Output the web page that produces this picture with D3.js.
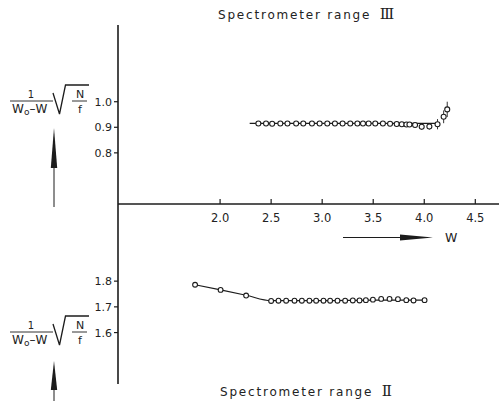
<!DOCTYPE html>
<html>
<head>
<meta charset="utf-8">
<script src="https://cdn.jsdelivr.net/npm/d3@7"></script>
<style>
  body { margin: 0; background: #fff; }
  svg text { font-family: "DejaVu Sans", sans-serif; fill: #222; }
</style>
</head>
<body>
<div id="chart"></div>
<script>
// spectrometer range III (upper panel)
var w3 = [2.375, 2.45, 2.51, 2.59, 2.66, 2.745, 2.815, 2.9, 2.975, 3.05, 3.125, 3.2, 3.275, 3.345,
          3.4, 3.455, 3.52, 3.595, 3.665, 3.73, 3.78, 3.825, 3.855, 3.91, 3.975, 4.05, 4.13, 4.19, 4.225];
var v3 = [0.915, 0.915, 0.914, 0.915, 0.915, 0.915, 0.915, 0.915, 0.915, 0.915, 0.915, 0.915, 0.915, 0.915,
          0.915, 0.915, 0.915, 0.915, 0.914, 0.913, 0.912, 0.911, 0.911, 0.909, 0.902, 0.903, 0.912, 0.941, 0.97];
var err3 = [0, 0, 0, 0, 0, 0, 0, 0, 0, 0, 0, 0, 0, 0,
            0, 0, 0, 0, 0, 0, 0, 0, 0, 0, 0.012, 0.012, 0.02, 0.025, 0.03];
var fit3W = [2.29, 4.13];
var fit3V = [0.915, 0.915];

// spectrometer range II (lower panel)
var w2 = [1.755, 2.005, 2.255, 2.5, 2.572, 2.647, 2.729, 2.801, 2.875, 2.941, 3.013, 3.078,
          3.15, 3.225, 3.3, 3.366, 3.428, 3.497, 3.578, 3.66, 3.742, 3.824, 3.895, 4.003];
var v2 = [1.786, 1.766, 1.744, 1.723, 1.724, 1.724, 1.724, 1.724, 1.724, 1.724, 1.724, 1.724,
          1.724, 1.724, 1.725, 1.725, 1.726, 1.728, 1.731, 1.731, 1.730, 1.726, 1.725, 1.726];
var fit2W = [1.755, 2.005, 2.255, 2.5, 3.0, 3.5, 4.003];
var fit2V = [1.786, 1.766, 1.745, 1.724, 1.724, 1.726, 1.726];

var xTicks = [2.0, 2.5, 3.0, 3.5, 4.0, 4.5];
var yTicks3 = [0.8, 0.9, 1.0];
var yTicks2 = [1.6, 1.7, 1.8];

var width = 499, height = 401, ink = "#1c1c1c";

var svg = d3.select("#chart").append("svg")
  .attr("width", width).attr("height", height);

var x = d3.scaleLinear().domain([1.0, 4.5]).range([118, 475.3]);
var yUp = d3.scaleLinear().domain([0.6, 1.3]).range([204, 25]);
var yLo = d3.scaleLinear().domain([1.4, 2.1]).range([384, 204]);

// axes lines
svg.append("line").attr("x1", 118).attr("x2", 118).attr("y1", 25).attr("y2", 384)
  .attr("stroke", ink).attr("stroke-width", 1.6);
svg.append("line").attr("x1", 118).attr("x2", width).attr("y1", 204).attr("y2", 204)
  .attr("stroke", ink).attr("stroke-width", 1.4);

// x ticks (upward)
svg.selectAll(".xt").data(xTicks).enter().append("line")
  .attr("x1", d => x(d)).attr("x2", d => x(d)).attr("y1", 204).attr("y2", 199)
  .attr("stroke", ink).attr("stroke-width", 1.2);
svg.selectAll(".xl").data(xTicks).enter().append("text")
  .attr("x", d => x(d)).attr("y", 222).attr("text-anchor", "middle")
  .style("font-size", "11.5px").text(d => d.toFixed(1));

// y ticks, both panels
function yAxis(scale, ticks) {
  svg.selectAll(null).data(ticks).enter().append("line")
    .attr("x1", 114).attr("x2", 118).attr("y1", d => scale(d)).attr("y2", d => scale(d))
    .attr("stroke", ink).attr("stroke-width", 1.2);
  svg.selectAll(null).data(ticks).enter().append("text")
    .attr("x", 112).attr("y", d => scale(d) + 4).attr("text-anchor", "end")
    .style("font-size", "11px").text(d => d.toFixed(1));
}
yAxis(yUp, yTicks3);
yAxis(yLo, yTicks2);

// fit lines
var lineUp = d3.line().x(d => x(d[0])).y(d => yUp(d[1]));
svg.append("path").datum(d3.zip(fit3W, fit3V)).attr("d", lineUp)
  .attr("fill", "none").attr("stroke", ink).attr("stroke-width", 1.2);

var lineLo = d3.line().x(d => x(d[0])).y(d => yLo(d[1])).curve(d3.curveMonotoneX);
svg.append("path").datum(d3.zip(fit2W, fit2V)).attr("d", lineLo)
  .attr("fill", "none").attr("stroke", ink).attr("stroke-width", 1.2);

// error bars (upper)
var pts3 = d3.zip(w3, v3, err3);
svg.selectAll(".err").data(pts3.filter(d => d[2] > 0)).enter().append("line")
  .attr("x1", d => x(d[0])).attr("x2", d => x(d[0]))
  .attr("y1", d => yUp(d[1] + d[2])).attr("y2", d => yUp(d[1] - d[2]))
  .attr("stroke", ink).attr("stroke-width", 0.9);

// points
svg.selectAll(".p3").data(pts3).enter().append("circle")
  .attr("cx", d => x(d[0])).attr("cy", d => yUp(d[1])).attr("r", 2.5)
  .attr("fill", "#fff").attr("stroke", ink).attr("stroke-width", 1.1);
svg.selectAll(".p2").data(d3.zip(w2, v2)).enter().append("circle")
  .attr("cx", d => x(d[0])).attr("cy", d => yLo(d[1])).attr("r", 2.4)
  .attr("fill", "#fff").attr("stroke", ink).attr("stroke-width", 1.1);

// titles
function title(xp, yp, numeral) {
  var t = svg.append("text").attr("x", xp).attr("y", yp)
    .style("font-size", "12px").style("letter-spacing", "1.8px");
  t.append("tspan").text("Spectrometer range ");
  t.append("tspan").attr("dx", 3).style("font-size", "15px").style("letter-spacing", "0px")
    .style("font-family", "'DejaVu Serif', serif").text(numeral);
}
title(218, 19, "\u2162");
title(220, 396, "\u2161");

// W arrow
svg.append("line").attr("x1", 343).attr("x2", 405).attr("y1", 237.5).attr("y2", 237.5)
  .attr("stroke", ink).attr("stroke-width", 1);
svg.append("path").attr("d", "M400,234.5 L433,237.5 L400,240.5 Z").attr("fill", ink);
svg.append("text").attr("x", 445).attr("y", 242).style("font-size", "12.5px").text("W");

// y labels: 1/(W0-W) sqrt(N/f) with arrow
function yLabel(cy, arrowTip, arrowBase, arrowEnd) {
  var g = svg.append("g");
  g.append("line").attr("x1", 10).attr("x2", 53).attr("y1", cy).attr("y2", cy)
    .attr("stroke", ink).attr("stroke-width", 0.9);
  g.append("text").attr("x", 31).attr("y", cy - 3).attr("text-anchor", "middle")
    .style("font-size", "10px").text("1");
  var t = g.append("text").attr("x", 12).attr("y", cy + 12).style("font-size", "12px");
  t.append("tspan").text("W");
  t.append("tspan").attr("dy", 2).style("font-size", "9px").text("o");
  t.append("tspan").attr("dy", -2).text("\u2013W");
  g.append("path")
    .attr("d", "M53," + (cy - 8) + " L59.5," + (cy + 13) +
      " L65.5," + (cy - 16) + " L89," + (cy - 16))
    .attr("fill", "none").attr("stroke", ink).attr("stroke-width", 1.3);
  g.append("line").attr("x1", 72).attr("x2", 87).attr("y1", cy).attr("y2", cy)
    .attr("stroke", ink).attr("stroke-width", 0.9);
  g.append("text").attr("x", 80).attr("y", cy - 3).attr("text-anchor", "middle")
    .style("font-size", "11px").text("N");
  g.append("text").attr("x", 80).attr("y", cy + 12).attr("text-anchor", "middle")
    .style("font-size", "11px").text("f");
  // vertical arrow
  g.append("line").attr("x1", 54).attr("x2", 54).attr("y1", arrowBase - 2).attr("y2", arrowEnd)
    .attr("stroke", ink).attr("stroke-width", 1);
  g.append("path").attr("d", "M54," + arrowTip + " L57.2," + arrowBase + " L50.8," + arrowBase + " Z")
    .attr("fill", ink);
}
yLabel(101, 128, 168, 207);
yLabel(332, 361, 390, 401);
</script>
</body>
</html>
